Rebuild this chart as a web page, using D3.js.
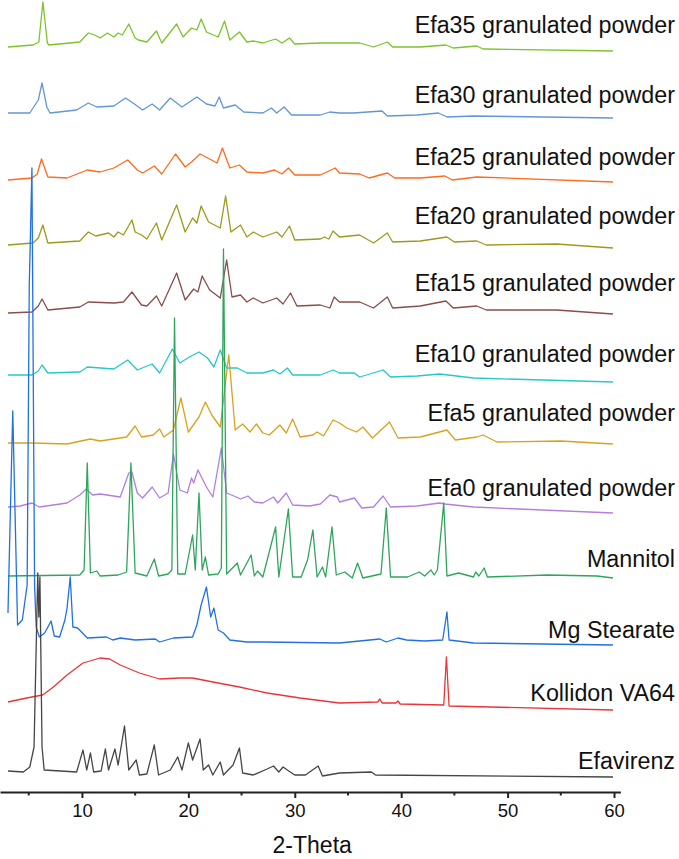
<!DOCTYPE html>
<html>
<head>
<meta charset="utf-8">
<script src="https://cdn.jsdelivr.net/npm/d3@7"></script>
<style>
  body { margin: 0; background: #fff; }
  text { font-family: "Liberation Sans", Arial, sans-serif; fill: #111; }
</style>
</head>
<body>
<div id="chart"></div>
<script>
// XRD patterns, [2-theta, intensity a.u. above each pattern's own baseline]
var efa35 = [[3.05,4],[5.4,6],[5.95,9],[6.33,49],[6.75,8],[6.9,6],[9.8,9],[10.6,18],[11.2,16],[11.7,13],[12.4,18],[13.0,14],[13.4,18],[13.8,16],[14.4,27],[15.0,13],[15.3,11],[16.1,9],[17.0,20],[17.5,8],[18.9,27],[19.5,14],[20.3,23],[20.8,21],[21.2,32],[21.7,19],[22.8,14],[23.4,30],[23.9,11],[24.8,19],[25.5,9],[26.1,10],[27.0,8],[28.2,12],[28.8,8],[29.5,13],[30.0,7],[32.4,8],[34.2,8],[36.1,8],[37.4,4],[38.7,9],[39.2,4],[41.8,4],[44.2,6],[44.9,3],[47.1,5],[47.7,2],[59.9,0]];
var efa30 = [[3.05,5],[5.1,5],[5.9,18],[6.25,35],[6.7,11],[7.0,5],[9.5,8],[10.6,15],[11.4,11],[13.0,12],[14.1,20],[14.8,15],[15.7,8],[16.6,14],[17.3,8],[18.3,20],[19.4,11],[20.1,16],[20.8,21],[21.7,14],[22.5,12],[22.9,21],[23.3,10],[24.4,13],[25.2,6],[27.0,5],[27.8,10],[28.3,5],[29.0,11],[29.7,3],[32.4,3],[33.3,6],[34.2,5],[35.5,5],[38.2,7],[38.7,2],[41.5,3],[43.5,5],[44.3,1],[46.8,2],[59.9,0]];
var efa25 = [[3.05,2],[5.3,4],[5.8,8],[6.2,23],[6.8,5],[8.6,4],[10.5,12],[11.7,10],[13.0,14],[14.3,22],[15.2,12],[15.7,9],[16.8,16],[17.5,8],[18.8,28],[19.7,15],[20.3,20],[21.1,28],[22.0,23],[22.7,19],[23.2,34],[23.9,14],[24.8,17],[25.5,10],[27.0,9],[28.1,12],[28.8,8],[29.4,14],[30.0,7],[32.4,7],[33.8,14],[34.2,9],[36.1,8],[37.0,4],[38.7,9],[39.4,4],[41.8,4],[44.1,6],[44.8,2],[47.1,5],[59.9,0]];
var efa20 = [[3.05,3],[5.4,5],[5.9,10],[6.33,23],[6.8,5],[9.8,7],[10.6,16],[11.3,12],[12.5,15],[13.0,11],[13.4,16],[13.9,13],[14.7,28],[15.0,16],[15.6,13],[16.1,9],[17.0,25],[17.5,8],[18.9,43],[19.7,16],[20.4,30],[20.8,25],[21.2,42],[21.9,26],[23.0,20],[23.5,52],[24.0,16],[24.9,23],[25.5,11],[26.1,16],[27.0,11],[28.3,16],[28.8,11],[29.5,22],[30.0,8],[32.4,9],[32.8,11],[33.2,9],[33.6,17],[34.2,11],[36.1,13],[37.4,5],[38.7,15],[39.2,6],[41.8,7],[44.3,11],[45.0,6],[47.1,7],[48.0,3],[54.6,4],[59.9,0]];
var efa15 = [[3.05,1],[5.3,2],[5.9,8],[6.25,15],[6.8,4],[9.8,7],[10.6,12],[13.0,11],[13.9,12],[14.7,22],[15.6,9],[16.1,8],[17.0,18],[17.5,8],[18.9,41],[19.7,14],[20.5,25],[20.9,22],[21.3,38],[22.0,24],[23.0,16],[23.6,54],[24.1,17],[24.9,19],[25.5,12],[26.1,16],[27.0,11],[28.3,16],[28.9,10],[29.6,21],[30.2,8],[32.4,9],[33.3,6],[33.7,17],[34.2,12],[36.1,12],[37.4,6],[38.7,17],[39.2,6],[41.8,8],[44.2,13],[44.9,6],[47.1,8],[48.0,4],[54.6,4],[59.9,0]];
var efa10 = [[3.05,7],[5.3,7],[5.9,11],[6.25,17],[6.8,9],[9.8,10],[10.5,15],[13.0,13],[14.3,22],[15.2,12],[16.6,18],[17.3,9],[18.5,33],[19.2,19],[20.1,25],[21.0,30],[21.8,24],[22.4,15],[23.0,32],[23.6,14],[24.6,14],[25.5,9],[27.0,9],[28.0,12],[28.6,8],[29.3,14],[29.8,7],[32.4,7],[33.6,12],[34.2,9],[35.6,9],[36.1,5],[38.3,12],[39.0,5],[41.5,6],[43.6,8],[46.8,4],[59.9,0]];
var efa5 = [[3.05,1],[5.3,1],[8.6,0],[10.8,5],[11.7,3],[14.2,7],[15.0,18],[15.6,7],[16.7,9],[17.3,15],[17.7,7],[18.6,14],[19.3,46],[20.0,12],[21.0,27],[21.6,42],[22.2,29],[23.0,17],[23.8,89],[24.4,14],[25.1,20],[25.8,12],[26.4,20],[27.0,11],[27.6,9],[28.6,19],[29.2,11],[29.8,25],[30.5,7],[31.7,9],[32.1,12],[32.7,8],[33.6,24],[34.2,21],[34.9,16],[35.8,12],[36.4,17],[37.3,6],[38.9,22],[39.7,6],[41.8,7],[44.3,14],[45.1,4],[47.1,7],[47.7,9],[49.0,2],[55.0,3],[59.9,0]];
var efa0 = [[3.05,6],[4.2,7],[5.3,10],[6.0,6],[8.6,10],[9.8,18],[10.4,24],[11.0,18],[11.7,19],[13.6,16],[14.4,40],[14.7,41],[15.2,20],[15.7,15],[16.6,26],[17.3,15],[18.1,20],[18.6,59],[19.2,23],[19.9,20],[20.3,35],[20.5,30],[20.9,43],[21.7,26],[22.3,16],[23.1,65],[23.6,20],[24.5,16],[24.9,14],[25.6,17],[26.2,11],[27.0,10],[28.0,16],[28.4,10],[29.2,20],[29.8,8],[31.4,7],[32.4,9],[33.3,18],[34.0,16],[34.2,11],[35.6,15],[36.3,5],[37.4,6],[38.3,17],[39.0,6],[41.5,7],[43.6,10],[44.1,9],[46.8,6],[59.9,0]];
var mannitol = [[3.05,2],[9.8,3],[10.2,8],[10.5,115],[10.8,5],[11.4,7],[11.7,2],[13.4,3],[14.2,6],[14.6,115],[15.0,5],[16.1,2],[16.8,19],[17.2,2],[18.1,4],[18.45,8],[18.7,260],[19.0,4],[19.7,4],[20.4,43],[20.65,8],[21.0,85],[21.3,8],[21.6,21],[21.9,3],[22.8,4],[23.1,10],[23.3,329],[23.6,4],[24.6,15],[24.9,3],[25.9,23],[26.2,2],[26.5,7],[27.0,1],[28.2,51],[28.5,1],[29.4,69],[29.8,1],[30.6,1],[31.2,18],[31.7,48],[32.1,1],[32.6,11],[32.9,1],[33.5,51],[33.9,3],[34.7,6],[35.4,0],[35.9,15],[36.4,0],[38.1,4],[38.6,70],[39.0,1],[40.6,1],[41.7,6],[42.2,2],[42.8,8],[43.1,3],[43.4,8],[44.0,75],[44.3,2],[45.4,5],[46.8,1],[47.0,6],[47.3,2],[47.8,10],[48.1,1],[53.7,3],[58.4,2],[59.9,0]];
var mgStearate = [[3.05,32],[3.5,234],[3.95,20],[4.4,25],[4.85,60],[5.05,359],[5.3,477],[5.55,60],[5.7,18],[6.0,8],[6.5,12],[7.1,24],[7.4,9],[7.9,8],[8.4,25],[8.6,37],[8.9,68],[9.15,18],[9.6,17],[10.5,7],[12.3,8],[12.9,5],[13.6,7],[15.0,5],[16.9,6],[17.3,3],[18.6,7],[20.4,8],[20.8,20],[21.2,40],[21.7,58],[22.1,28],[22.4,37],[22.8,15],[23.3,12],[23.9,5],[25.5,3],[27.0,3],[34.2,2],[38.0,6],[38.6,3],[39.7,7],[40.5,5],[42.2,4],[43.9,5],[44.3,33],[44.5,5],[46.8,2],[59.9,0]];
var kollidon = [[3.05,8],[4.8,12],[6.3,15],[7.2,22],[8.6,35],[10.1,47],[11.7,52],[12.6,51],[13.6,45],[15.4,37],[17.3,31],[19.2,32],[20.4,32],[22.3,28],[24.8,23],[27.4,17],[30.5,12],[34.2,7],[37.8,8],[38.0,11],[38.2,7],[39.5,7],[39.7,9],[39.9,6],[44.0,5],[44.25,53],[44.5,4],[59.9,0]];
var efavirenz = [[3.05,6],[4.5,5],[5.1,10],[5.5,30],[5.85,204],[5.95,160],[6.05,200],[6.25,30],[6.45,7],[9.5,5],[10.1,27],[10.45,7],[10.8,24],[11.1,5],[11.8,6],[12.2,28],[12.5,7],[13.1,28],[13.4,12],[14.0,51],[14.4,7],[15.1,17],[15.4,2],[16.1,3],[16.8,32],[17.2,2],[18.3,7],[19.0,20],[19.4,7],[20.0,34],[20.4,17],[21.1,38],[21.4,7],[21.9,12],[22.3,2],[23.0,15],[23.3,2],[24.2,12],[24.8,29],[25.1,4],[26.1,2],[27.4,8],[28.0,11],[28.5,5],[28.9,10],[29.3,7],[30.0,2],[31.0,2],[32.2,11],[32.6,1],[34.2,4],[37.2,5],[37.6,2],[59.9,0]];

var names = ["Efa35 granulated powder", "Efa30 granulated powder", "Efa25 granulated powder",
  "Efa20 granulated powder", "Efa15 granulated powder", "Efa10 granulated powder",
  "Efa5 granulated powder", "Efa0 granulated powder", "Mannitol", "Mg Stearate",
  "Kollidon VA64", "Efavirenz"];
var patterns = [efa35, efa30, efa25, efa20, efa15, efa10, efa5, efa0, mannitol, mgStearate, kollidon, efavirenz];
var offsets = [741, 674, 610, 544, 478, 410, 348, 279, 214, 147, 82, 15];   // stacking offset (a.u.)
var xTicks = [10, 20, 30, 40, 50, 60];
var xMinorTicks = [5, 15, 25, 35, 45, 55];

var colors = ["#7cc42a", "#6496d6", "#ff6a1e", "#9c9a1c", "#8a4c4c", "#28c8c8",
  "#d9a21e", "#b27fe0", "#2fa55c", "#2170e6", "#ea3438", "#454545"];
var labelLift = [18, 15, 17, 24, 23, 20, 23, 17, 11, 7, 9, 8];

var width = 679,
    height = 859;
var margin = {top: 0, left: 0, bottom: 67};
var plotRight = 620.4;

var svg = d3.select("#chart")
    .append("svg")
    .attr("width", width)
    .attr("height", height);

var x = d3.scaleLinear()
    .domain([2.3, 60.6])
    .range([margin.left, plotRight]);

var y = d3.scaleLinear()
    .domain([0, 792])
    .range([height - margin.bottom, margin.top]);

var line = d3.line()
    .x(function(d) { return x(d[0]); })
    .y(function(d) { return y(d[1]); });

// top pattern first, so the lower ones sit on top of it
patterns.forEach(function(p, i) {
    var pts = p.map(function(d) { return [d[0], d[1] + offsets[i]]; });
    svg.append("path")
        .datum(pts)
        .attr("fill", "none")
        .attr("stroke", colors[i])
        .attr("stroke-width", 1.3)
        .attr("stroke-linejoin", "round")
        .attr("d", line);
});

svg.selectAll(".label")
    .data(names)
    .enter().append("text")
    .attr("class", "label")
    .attr("x", 675)
    .attr("y", function(d, i) { return y(offsets[i] + labelLift[i]); })
    .attr("text-anchor", "end")
    .style("font-size", "23.3px")
    .text(function(d) { return d; });

var axisY = height - margin.bottom;

var gx = svg.append("g")
    .attr("transform", "translate(0," + axisY + ")")
    .call(d3.axisBottom(x).tickValues(xTicks).tickSize(6).tickSizeOuter(0).tickPadding(6));

gx.select(".domain").attr("stroke", "#222").attr("stroke-width", 2);
gx.selectAll(".tick line").attr("stroke", "#222").attr("stroke-width", 2);
gx.selectAll(".tick text").style("font-size", "18.5px").attr("fill", "#111");

gx.selectAll(".minor")
    .data(xMinorTicks)
    .enter().append("line")
    .attr("class", "minor")
    .attr("x1", function(d) { return x(d); })
    .attr("x2", function(d) { return x(d); })
    .attr("y1", 0)
    .attr("y2", 3.5)
    .attr("stroke", "#222")
    .attr("stroke-width", 2);

svg.append("text")
    .attr("x", (x(2.3) + plotRight) / 2 + 2)
    .attr("y", 853)
    .attr("text-anchor", "middle")
    .style("font-size", "23px")
    .text("2-Theta");
</script>
</body>
</html>
